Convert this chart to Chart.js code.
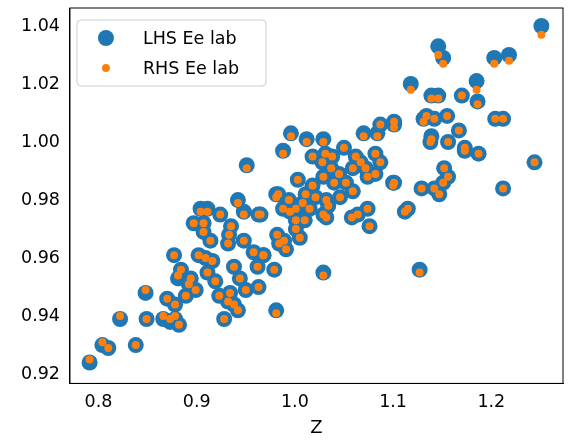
<!DOCTYPE html>
<html><head><meta charset="utf-8">
<script src="https://cdn.jsdelivr.net/npm/chart.js@4"></script>
<style>html,body{margin:0;background:#fff}#w{width:572px;height:444px}</style>
</head><body><div id="w"><canvas id="c"></canvas></div>
<script>
const zVals = [0.791,0.804,0.810,0.822,0.838,0.848,0.849,0.866,0.870,0.873,0.878,0.878,0.882,0.877,0.881,0.884,0.889,0.892,0.894,0.897,0.899,0.902,0.904,0.907,0.907,0.909,0.911,0.911,0.914,0.916,0.919,0.923,0.924,0.928,0.932,0.932,0.933,0.934,0.935,0.938,0.938,0.942,0.942,0.944,0.948,0.948,0.950,0.951,0.958,0.962,0.963,0.963,0.965,0.968,0.968,0.979,0.981,0.981,0.982,0.983,0.984,0.988,0.988,0.989,0.991,0.994,0.995,0.996,1.001,1.001,1.001,1.003,1.005,1.008,1.010,1.011,1.012,1.015,1.018,1.018,1.021,1.028,1.029,1.029,1.029,1.029,1.031,1.032,1.032,1.034,1.037,1.038,1.040,1.045,1.046,1.050,1.052,1.058,1.059,1.059,1.062,1.064,1.067,1.070,1.072,1.074,1.074,1.076,1.082,1.082,1.084,1.087,1.087,1.100,1.101,1.101,1.101,1.112,1.115,1.118,1.127,1.129,1.131,1.134,1.138,1.139,1.139,1.142,1.142,1.146,1.146,1.147,1.151,1.151,1.152,1.155,1.156,1.156,1.167,1.170,1.173,1.173,1.185,1.186,1.187,1.203,1.204,1.212,1.212,1.218,1.244,1.251];
const lhsVals = [0.924,0.930,0.929,0.939,0.930,0.948,0.939,0.939,0.946,0.938,0.944,0.939,0.937,0.961,0.953,0.956,0.947,0.951,0.953,0.972,0.949,0.961,0.977,0.972,0.969,0.960,0.977,0.955,0.966,0.959,0.952,0.947,0.975,0.939,0.965,0.945,0.968,0.948,0.971,0.957,0.944,0.980,0.942,0.953,0.976,0.966,0.949,0.992,0.962,0.957,0.975,0.950,0.975,0.961,0.961,0.956,0.982,0.942,0.968,0.982,0.965,0.997,0.977,0.966,0.963,0.980,0.976,1.003,0.977,0.973,0.970,0.987,0.967,0.979,0.973,0.982,1.001,0.977,0.995,0.985,0.981,0.993,1.001,0.988,0.975,0.955,0.996,0.980,0.974,0.978,0.991,0.995,0.986,0.989,0.981,0.998,0.986,0.974,0.991,0.983,0.995,0.975,0.993,1.003,0.991,0.988,0.977,0.971,0.989,0.996,1.003,0.993,1.006,0.986,1.006,1.007,0.986,0.976,0.977,1.020,0.956,0.984,1.008,1.009,1.000,1.016,1.002,1.008,0.984,1.016,1.033,0.982,1.029,0.986,0.991,1.009,1.000,0.988,1.004,1.016,0.998,0.997,1.021,1.014,0.996,1.029,1.008,1.008,0.984,1.030,0.993,1.040];
const rhsVals = [0.925,0.931,0.929,0.940,0.930,0.949,0.939,0.940,0.946,0.939,0.944,0.940,0.937,0.961,0.954,0.956,0.947,0.951,0.953,0.972,0.949,0.961,0.976,0.972,0.969,0.960,0.976,0.955,0.966,0.959,0.952,0.947,0.975,0.939,0.965,0.945,0.968,0.948,0.971,0.957,0.944,0.979,0.942,0.953,0.975,0.966,0.949,0.991,0.962,0.957,0.975,0.950,0.975,0.961,0.961,0.956,0.981,0.941,0.968,0.982,0.965,0.996,0.977,0.966,0.963,0.980,0.976,1.002,0.977,0.973,0.970,0.987,0.967,0.979,0.973,0.982,1.000,0.977,0.995,0.985,0.981,0.993,1.000,0.988,0.975,0.954,0.996,0.980,0.974,0.978,0.991,0.995,0.986,0.989,0.981,0.998,0.986,0.974,0.991,0.983,0.995,0.975,0.993,1.002,0.991,0.988,0.977,0.971,0.989,0.996,1.002,0.993,1.006,0.985,1.005,1.007,0.986,0.976,0.977,1.018,0.955,0.984,1.007,1.009,1.000,1.015,1.001,1.008,0.984,1.015,1.030,0.982,1.027,0.986,0.991,1.009,1.000,0.988,1.004,1.016,0.998,0.997,1.018,1.013,0.996,1.027,1.008,1.008,0.984,1.028,0.993,1.037];
const xTicks = [0.8,0.9,1.0,1.1,1.2];
const yTicks = [0.92,0.94,0.96,0.98,1.00,1.02,1.04];
const seriesNames = ['LHS Ee lab','RHS Ee lab'];
const colors = ['#1f77b4','#ff7f0e'];
const pts = v => zVals.map((z,i)=>({x:z,y:v[i]}));
const font = {family:'DejaVu Sans', size:17.5};
const legendPlugin = {id:'mplLegend', afterDraw(c){
  const x=c.ctx, a=c.chartArea; x.save();
  const L=a.left+7, T=a.top+12, W=189, H=66;
  x.beginPath(); x.roundRect(L,T,W,H,4); x.fillStyle='rgba(255,255,255,0.8)'; x.fill();
  x.strokeStyle='#cccccc'; x.lineWidth=1; x.stroke();
  const radii=[c.data.datasets[0].pointRadius,c.data.datasets[1].pointRadius];
  x.font='17.5px "DejaVu Sans"'; x.textBaseline='middle'; x.fillStyle='#000';
  seriesNames.forEach((n,i)=>{
    const cy=T+18+i*30;
    x.beginPath(); x.arc(L+29,cy,radii[i],0,Math.PI*2); x.fillStyle=colors[i]; x.fill();
    x.fillStyle='#000'; x.fillText(n,L+66,cy+1);
  });
  x.restore();
}};
new Chart(document.getElementById('c'),{
  type:'scatter',
  data:{datasets:[
    {label:seriesNames[0],data:pts(lhsVals),backgroundColor:colors[0],borderWidth:0,pointRadius:8,pointHoverRadius:8,order:2},
    {label:seriesNames[1],data:pts(rhsVals),backgroundColor:colors[1],borderWidth:0,pointRadius:4,pointHoverRadius:4,order:1}
  ]},
  options:{
    responsive:true,maintainAspectRatio:false,animation:false,
    layout:{padding:{top:8,right:9,left:16,bottom:5}},
    plugins:{tooltip:{enabled:false},legend:{display:false}},
    scales:{
      x:{type:'linear',min:0.771,max:1.273,afterBuildTicks:a=>{a.ticks=xTicks.map(v=>({value:v}))},
        ticks:{font:font,color:'#000',callback:v=>v.toFixed(1),padding:4},
        grid:{display:false,drawTicks:true,tickLength:5,tickColor:'#000'},border:{color:'#000'},
        title:{display:true,text:'Z',font:{family:'DejaVu Sans',size:18},color:'#000',padding:{top:0,bottom:0}}},
      y:{min:0.9168,max:1.0462,afterBuildTicks:a=>{a.ticks=yTicks.map(v=>({value:v}))},
        afterFit:s=>{s.paddingTop=0;s.paddingBottom=0;},
        ticks:{font:font,color:'#000',callback:v=>v.toFixed(2),padding:5},
        grid:{display:false,drawTicks:true,tickLength:5,tickColor:'#000'},border:{color:'#000'}}
    }
  },
  plugins:[legendPlugin,{id:'frame',afterDraw(c){const a=c.chartArea,x=c.ctx;x.save();x.strokeStyle='#000';x.lineWidth=1;x.strokeRect(a.left,a.top,a.right-a.left,a.bottom-a.top);x.restore();}}]
});
</script></body></html>
